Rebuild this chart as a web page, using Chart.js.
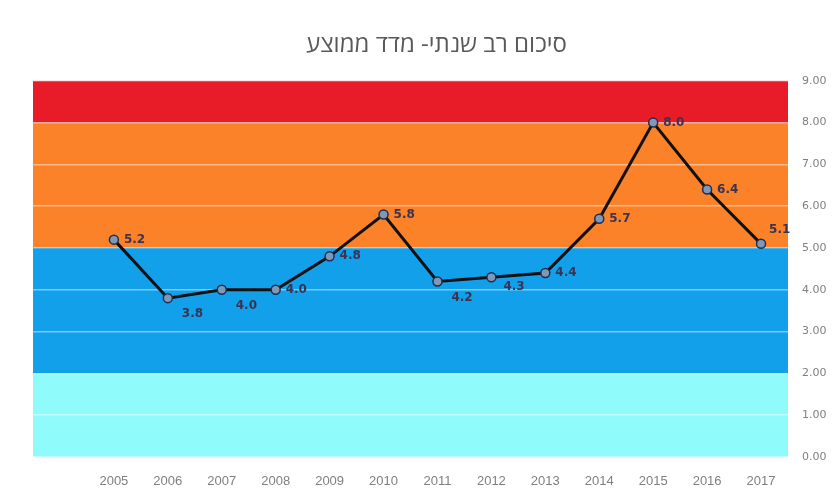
<!DOCTYPE html>
<html>
<head>
<meta charset="utf-8">
<script src="https://cdn.jsdelivr.net/npm/chart.js@4/dist/chart.umd.min.js"></script>
<style>
  html, body { margin: 0; padding: 0; background: #fff; }
  #wrap { width: 840px; height: 493px; }
</style>
</head>
<body>
<div id="wrap"><canvas id="riskChart"></canvas></div>
<script>
const years = ['2005', '2006', '2007', '2008', '2009', '2010', '2011', '2012', '2013', '2014', '2015', '2016', '2017'];
const avgIndex = [5.2, 3.8, 4.0, 4.0, 4.8, 5.8, 4.2, 4.3, 4.4, 5.7, 8.0, 6.4, 5.1];
const bandEdges = [0, 2, 5, 8, 9];
const bandColors = ['#8ffbfb', '#12a0ea', '#fb8228', '#e81c28'];
// where each value label sits next to its point
const labelPlace = ['right', 'below', 'below', 'right', 'right', 'right', 'below', 'lower', 'right', 'right', 'right', 'right', 'above'];

const bandsPlugin = {
    id: 'bands',
    beforeDraw(chart) {
        const { ctx, chartArea, scales } = chart;
        ctx.save();
        for (let i = 0; i < bandColors.length; i++) {
            const top = scales.y.getPixelForValue(bandEdges[i + 1]);
            const bottom = scales.y.getPixelForValue(bandEdges[i]);
            ctx.fillStyle = bandColors[i];
            ctx.fillRect(chartArea.left, top, chartArea.right - chartArea.left, bottom - top);
        }
        ctx.restore();
    }
};

const valueLabels = {
    id: 'valueLabels',
    afterDatasetsDraw(chart) {
        const { ctx } = chart;
        const meta = chart.getDatasetMeta(0);
        ctx.save();
        ctx.font = 'bold 12px "DejaVu Sans", sans-serif';
        ctx.fillStyle = '#3b3350';
        ctx.textBaseline = 'middle';
        ctx.textAlign = 'left';
        meta.data.forEach((pt, i) => {
            let dx = 10, dy = 0;
            if (labelPlace[i] === 'below') { dx = 14; dy = 16; }
            if (labelPlace[i] === 'lower') { dx = 12; dy = 10; }
            if (labelPlace[i] === 'above') { dx = 8; dy = -14; }
            ctx.fillText(avgIndex[i].toFixed(1), pt.x + dx, pt.y + dy);
        });
        ctx.restore();
    }
};

new Chart(document.getElementById('riskChart'), {
    type: 'line',
    data: {
        datasets: [{
            data: avgIndex.map((v, i) => ({ x: i, y: v })),
            borderColor: '#111111',
            borderWidth: 3,
            pointRadius: 4.5,
            pointBackgroundColor: '#8098b8',
            pointBorderColor: '#1f2d4f',
            pointBorderWidth: 1.5,
            tension: 0
        }]
    },
    options: {
        responsive: true,
        maintainAspectRatio: false,
        animation: false,
        layout: { padding: { left: 33, right: 0 } },
        plugins: {
            legend: { display: false },
            tooltip: { enabled: false },
            title: {
                display: true,
                text: 'סיכום רב שנתי- מדד ממוצע',
                color: '#595959',
                font: { family: '"Open Sans", "DejaVu Sans", sans-serif', size: 24, weight: 'normal' },
                padding: { top: 31, bottom: 21 }
            }
        },
        scales: {
            x: {
                type: 'linear',
                min: -1.5,
                max: 12.5,
                afterBuildTicks(axis) {
                    axis.ticks = years.map((y, i) => ({ value: i }));
                },
                afterFit(axis) { axis.height = 36; },
                grid: { display: false },
                border: { display: false },
                ticks: {
                    callback: v => years[v] ?? '',
                    color: '#7f7f7f',
                    font: { family: '"Liberation Sans", Arial, sans-serif', size: 13 },
                    padding: 9,
                    maxRotation: 0,
                    autoSkip: false
                }
            },
            y: {
                position: 'right',
                min: 0,
                max: 9,
                afterFit(axis) { axis.width = 52; },
                grid: { color: 'rgba(255,255,255,0.45)', lineWidth: 1.5, drawTicks: false },
                border: { display: false },
                ticks: {
                    stepSize: 1,
                    callback: v => v.toFixed(2),
                    color: '#7f7f7f',
                    font: { family: '"DejaVu Sans", sans-serif', size: 11 },
                    padding: 14
                }
            }
        }
    },
    plugins: [bandsPlugin, valueLabels]
});
</script>
</body>
</html>
